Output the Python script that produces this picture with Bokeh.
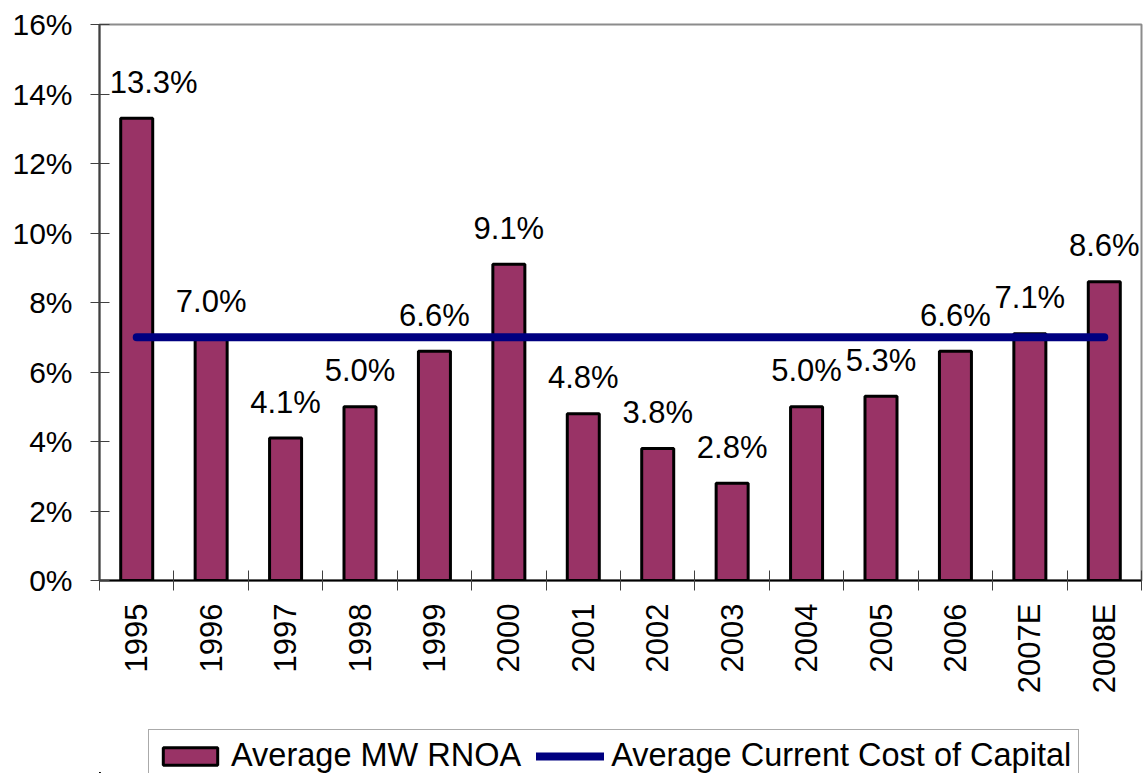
import numpy as np
from bokeh.plotting import figure
from bokeh.layouts import column
from bokeh.models import (ColumnDataSource, Range1d, FixedTicker, PrintfTickFormatter,
                          LinearAxis, Legend, LegendItem)
from bokeh.core.properties import value
from bokeh.embed import file_html
from bokeh.resources import INLINE

years = ["1995", "1996", "1997", "1998", "1999", "2000", "2001", "2002", "2003",
         "2004", "2005", "2006", "2007E", "2008E"]
rnoa = [13.3, 7.0, 4.1, 5.0, 6.6, 9.1, 4.8, 3.8, 2.8, 5.0, 5.3, 6.6, 7.1, 8.6]
cost_of_capital = [7.0] * len(years)
y_ticks = [0, 2, 4, 6, 8, 10, 12, 14, 16]
series_names = ["Average MW RNOA", "Average Current Cost of Capital"]

FONT = "Liberation Sans"
BAR_COLOR = "#993366"
LINE_COLOR = "#000080"
n = len(years)
xc = np.arange(n) + 0.5

src = ColumnDataSource(dict(
    x=xc, top=rnoa, cc=cost_of_capital,
    lab=[f"{v:.1f}%" for v in rnoa],
    xoff=[17 if i == 0 else 0 for i in range(n)],
))

p = figure(width=1144, height=720, output_backend="svg", toolbar_location=None,
           x_range=Range1d(0, n), y_range=Range1d(0, 16),
           min_border_left=99, min_border_right=3, min_border_top=24, min_border_bottom=140,
           x_axis_type=None, y_axis_type=None)
p.background_fill_color = "white"
p.border_fill_color = "white"
p.outline_line_color = "#8c8c8c"
p.outline_line_width = 2
p.xgrid.visible = False
p.ygrid.visible = False

# y axis
ya = LinearAxis(ticker=FixedTicker(ticks=y_ticks),
                formatter=PrintfTickFormatter(format="%d%%"))
ya.major_label_text_font = FONT
ya.major_label_text_font_size = "30px"
ya.major_label_text_color = "black"
ya.major_tick_in = 10
ya.major_tick_out = 9
ya.minor_tick_in = 0
ya.minor_tick_out = 0
ya.major_label_standoff = 18
ya.axis_line_color = "#404040"
ya.axis_line_width = 2
ya.major_tick_line_color = "#404040"
ya.major_tick_line_width = 1
p.add_layout(ya, "left")

# x axis: labels at category centres, ticks at category boundaries
xa = LinearAxis(ticker=FixedTicker(ticks=list(xc), minor_ticks=list(range(n + 1))))
xa.major_label_overrides = {float(x): y for x, y in zip(xc, years)}
xa.major_label_orientation = np.pi / 2
xa.major_label_text_font = FONT
xa.major_label_text_font_size = "31px"
xa.major_label_text_color = "black"
xa.major_tick_in = 0
xa.major_tick_out = 0
xa.minor_tick_in = 10
xa.minor_tick_out = 10
xa.minor_tick_line_color = "#404040"
xa.minor_tick_line_width = 1
xa.major_label_standoff = 13
xa.axis_line_color = "black"
xa.axis_line_width = 2
p.add_layout(xa, "below")

p.vbar(x="x", top="top", width=0.43, source=src,
       fill_color=BAR_COLOR, line_color="black", line_width=3)
p.line(x="x", y="cc", source=src, line_color=LINE_COLOR, line_width=8, line_cap="round")
p.text(x="x", y="top", text="lab", source=src, x_offset="xoff", y_offset=-36,
       text_align="center", text_baseline="alphabetic",
       text_font=value(FONT), text_font_size="31px", text_color="black")

# legend strip below the chart (its renderers use the same data but lie outside its ranges)
lf = figure(width=1144, height=53, output_backend="svg", toolbar_location=None,
            x_range=Range1d(1000, 1001), y_range=Range1d(1000, 1001),
            min_border_left=99, min_border_right=3, min_border_top=0, min_border_bottom=0,
            x_axis_type=None, y_axis_type=None)
lf.outline_line_color = None
lf.xgrid.visible = False
lf.ygrid.visible = False
lf.background_fill_color = "white"
lf.border_fill_color = "white"
lb = lf.vbar(x="x", top="top", width=0.43, source=src,
             fill_color=BAR_COLOR, line_color="black", line_width=3)
ll = lf.line(x="x", y="cc", source=src, line_color=LINE_COLOR, line_width=8,
             line_cap="round")
legend = Legend(items=[LegendItem(label=series_names[0], renderers=[lb]),
                       LegendItem(label=series_names[1], renderers=[ll])],
                orientation="horizontal", location=(49, -9))
legend.label_text_font = FONT
legend.label_text_font_size = "32.5px"
legend.label_text_color = "black"
legend.glyph_width = 68
legend.glyph_height = 22
legend.label_standoff = 7
legend.spacing = 15
legend.padding = 7
legend.margin = 0
legend.border_line_color = "#555555"
legend.border_line_width = 1
legend.background_fill_alpha = 1
lf.add_layout(legend, "center")

layout = column(p, lf, spacing=0)
open("out.html", "w").write(file_html(layout, INLINE))
